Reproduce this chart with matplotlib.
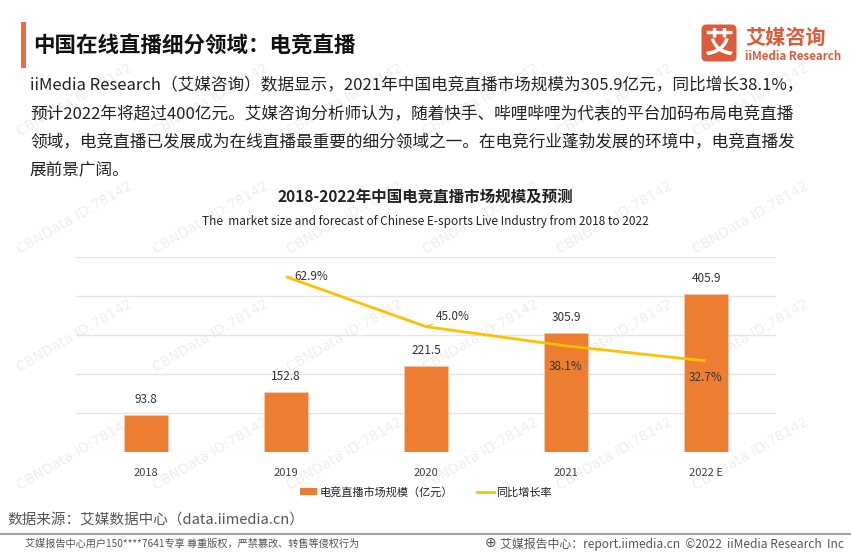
import matplotlib
matplotlib.use("Agg")
import matplotlib.pyplot as plt
from matplotlib.patches import FancyBboxPatch, Rectangle
from matplotlib.lines import Line2D
from matplotlib.patches import Patch

plt.rcParams['font.family'] = ['Noto Sans CJK SC', 'DejaVu Sans']

# ---------------- data ----------------
years = ["2018", "2019", "2020", "2021", "2022 E"]
market_size = [93.8, 152.8, 221.5, 305.9, 405.9]          # 亿元
growth_years_idx = [1, 2, 3, 4]
growth_rate = [62.9, 45.0, 38.1, 32.7]                     # %
grid_values = [0, 100, 200, 300, 400, 500]

title = "中国在线直播细分领域：电竞直播"
paragraph = [
    "iiMedia Research（艾媒咨询）数据显示，2021年中国电竞直播市场规模为305.9亿元，同比增长38.1%，",
    "预计2022年将超过400亿元。艾媒咨询分析师认为，随着快手、哔哩哔哩为代表的平台加码布局电竞直播",
    "领域，电竞直播已发展成为在线直播最重要的细分领域之一。在电竞行业蓬勃发展的环境中，电竞直播发",
    "展前景广阔。",
]
chart_title = "2018-2022年中国电竞直播市场规模及预测"
chart_subtitle = "The  market size and forecast of Chinese E-sports Live Industry from 2018 to 2022"
legend_labels = ["电竞直播市场规模（亿元）", "同比增长率"]
source_text = "数据来源：艾媒数据中心（data.iimedia.cn）"
footer_left = "艾媒报告中心用户150****7641专享 尊重版权，严禁篡改、转售等侵权行为"
footer_right = "艾媒报告中心：report.iimedia.cn  ©2022  iiMedia Research  Inc"
watermark = "CBNData ID:78142"

# ---------------- styles ----------------
W, H = 851, 553
BAR_C = "#ED7D31"
LINE_C = "#FFC000"
LOGO_C = "#DC5B3B"
TXT = "#222222"

fig = plt.figure(figsize=(W / 100, H / 100), dpi=100)
fig.patch.set_facecolor("white")


def P(x, y):
    return (x / W, 1 - y / H)


# watermarks (faint)
for row, yy in enumerate(range(100, 520, 118)):
    for xx in range(15, 740, 135):
        fig.text(*P(xx, yy), watermark, rotation=30, fontsize=10,
                 color="#EEEEEE", ha="left", va="center", zorder=0,
                 family=["DejaVu Sans"])

# heading bar + title
fig.patches.append(Rectangle(P(21, 68), 5 / W, 46 / H, transform=fig.transFigure,
                             facecolor="#F26B3A", edgecolor="none"))
fig.text(*P(33, 45), title, fontsize=15.5, fontweight="bold", color="#111111",
         ha="left", va="center")

# logo
lax = fig.add_axes([700 / W, 1 - 63 / H, 38 / W, 40 / H])
lax.set_xlim(0, 38)
lax.set_ylim(0, 40)
lax.axis("off")
lax.add_patch(FancyBboxPatch((1.5, 1.5), 35, 37, boxstyle="round,pad=0,rounding_size=5",
                             facecolor=LOGO_C, edgecolor="none"))
lax.text(19, 19, "艾", fontsize=21, fontweight="bold", color="white",
         ha="center", va="center")
fig.text(*P(745, 37), "艾媒咨询", fontsize=14.5, fontweight="bold", color=LOGO_C,
         ha="left", va="center")
fig.text(*P(745, 56), "iiMedia Research", fontsize=8.3, fontweight="bold", color=LOGO_C,
         ha="left", va="center")

# paragraph
for i, line in enumerate(paragraph):
    fig.text(*P(30, 86 + i * 28.3), line, fontsize=12, color=TXT,
             ha="left", va="center")

# chart titles
fig.text(*P(425, 197), chart_title, fontsize=11.2, fontweight="bold", color=TXT,
         ha="center", va="center")
fig.text(*P(425, 221), chart_subtitle, fontsize=8.5, color=TXT,
         ha="center", va="center")

# ---------------- chart ----------------
ax = fig.add_axes([76 / W, 1 - 452 / H, 700 / W, 195 / H])
ax2 = ax.twinx()
ax.set_zorder(1)
ax2.set_zorder(2)
ax.patch.set_alpha(0)

x = list(range(len(years)))
ax.bar(x, market_size, width=0.32, color=BAR_C, edgecolor="#F6C8A8",
       linewidth=0.6, zorder=3)
ax.set_xlim(-0.5, 4.5)
ax.set_ylim(0, 500)
for gv in grid_values:
    ax.axhline(gv, color="#E4E4E4", linewidth=1.0, zorder=1)
ax.set_yticks([])
ax.tick_params(axis="y", left=False, right=False, labelleft=False)
ax.tick_params(axis="x", bottom=False, pad=8, labelsize=8, labelcolor="#404040")
ax.set_xticks(x)
ax.set_xticklabels(years)
for s in ax.spines.values():
    s.set_visible(False)

for xi, v in zip(x, market_size):
    ax.annotate(f"{v:.1f}", xy=(xi, v), xytext=(0, 6.5), textcoords="offset points",
                ha="center", va="bottom", fontsize=8.5, color="#333333")

ax2.set_ylim(0, 70)
ax2.axis("off")
ax2.plot(growth_years_idx, growth_rate, color=LINE_C, linewidth=2.0, zorder=4,
         solid_capstyle="butt")

lead = dict(arrowstyle="-", color="#A6A6A6", lw=0.6, shrinkA=0, shrinkB=0)
ax2.annotate(f"{growth_rate[0]:.1f}%", xy=(growth_years_idx[0], growth_rate[0]),
             xytext=(6, 0), textcoords="offset points", ha="left", va="center",
             fontsize=8.5, color="#333333", arrowprops=lead)
ax2.annotate(f"{growth_rate[1]:.1f}%", xy=(growth_years_idx[1], growth_rate[1]),
             xytext=(7, 7), textcoords="offset points", ha="left", va="center",
             fontsize=8.5, color="#333333", arrowprops=lead)
ax2.annotate(f"{growth_rate[2]:.1f}%", xy=(growth_years_idx[2], growth_rate[2]),
             xytext=(0, -14.5), textcoords="offset points", ha="center", va="center",
             fontsize=8.5, color="#333333")
ax2.annotate(f"{growth_rate[3]:.1f}%", xy=(growth_years_idx[3], growth_rate[3]),
             xytext=(0, -12), textcoords="offset points", ha="center", va="center",
             fontsize=8.5, color="#333333")

handles = [Patch(facecolor=BAR_C, edgecolor="none"),
           Line2D([0], [0], color=LINE_C, linewidth=2.0)]
fig.legend(handles, legend_labels, loc="center", bbox_to_anchor=P(426, 492),
           ncol=2, frameon=False, fontsize=8, handlelength=1.5, handleheight=0.7,
           handletextpad=0.2, columnspacing=2.2, labelcolor="#222222")

# ---------------- footer ----------------
fig.text(*P(7, 520), source_text, fontsize=10.5, color="#555555", ha="left", va="center")
fig.add_artist(Line2D([0, 1], [1 - 534 / H] * 2, transform=fig.transFigure,
                      color="#A0A0A0", linewidth=1.5))
fig.text(*P(25, 544), footer_left, fontsize=7.3, color="#555555", ha="left", va="center")
fig.text(*P(491, 543), "⊕", fontsize=10, color="#555555", ha="center", va="center",
         family=["DejaVu Sans"])
fig.text(*P(500, 544), footer_right, fontsize=8.6, color="#555555", ha="left", va="center")

fig.savefig("out.png", dpi=100)
